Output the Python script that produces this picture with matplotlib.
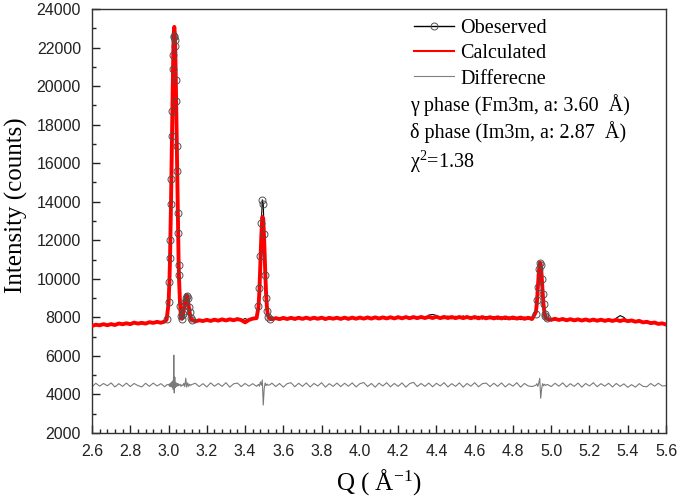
#!/usr/bin/env python3
# -*- coding: utf-8 -*-
## Rietveld fit of a neutron diffraction pattern: observed, calculated and
## difference curves against Q

import matplotlib
matplotlib.use('Agg')
import matplotlib.pyplot as plt
from matplotlib.lines import Line2D
from matplotlib.ticker import MultipleLocator

# ---- data (Q in 1/A, intensity in counts) ----
# background before the first peak
q_a = [2.60, 2.62, 2.64, 2.66, 2.68, 2.70, 2.72, 2.74, 2.76, 2.78,
       2.80, 2.82, 2.84, 2.86, 2.88, 2.90, 2.92, 2.94, 2.96, 2.98]
obs_a = [7500, 7650, 7560, 7680, 7570, 7700, 7590, 7720, 7610, 7740,
         7600, 7760, 7640, 7780, 7650, 7790, 7690, 7800, 7700, 7830]
calc_a = [7555, 7617, 7588, 7647, 7593, 7647, 7603, 7682, 7643, 7692,
          7648, 7727, 7678, 7716, 7677, 7750, 7715, 7765, 7722, 7782]
diff_a = [4400, 4580, 4430, 4570, 4450, 4600, 4390, 4560, 4420, 4590,
          4410, 4570, 4460, 4390, 4580, 4420, 4590, 4440, 4560, 4400]

# gamma (111) peak and the small shoulder peak
q_b = [2.99, 3.00, 3.005, 3.0075, 3.01, 3.0125, 3.015, 3.0175, 3.02, 3.0225,
       3.025, 3.0275, 3.03, 3.0325, 3.035, 3.0375, 3.04, 3.0425, 3.045, 3.0475,
       3.05, 3.0525, 3.055, 3.06, 3.065, 3.07, 3.075, 3.08, 3.085, 3.09,
       3.095, 3.10, 3.105, 3.11, 3.115, 3.12]
obs_b = [7900, 8790, 9850, 11100, 12000, 13900, 15200, 17400, 18700, 20900,
         21600, 22600, 22550, 22400, 22100, 20300, 19200, 16900, 15600, 13400,
         12400, 10700, 10200, 8600, 8050, 7900, 8150, 8350, 8800, 9000,
         9100, 9020, 8550, 8300, 7980, 7860]
calc_b = [7880, 8710, 9980, 10960, 12190, 13690, 15390, 17200, 18980, 20620,
          21920, 22770, 23070, 22770, 21920, 20620, 18980, 17200, 15390, 13690,
          12190, 10960, 9980, 8710, 8000, 7930, 8100, 8400, 8770, 9070,
          9160, 8970, 8620, 8270, 8010, 7890]
diff_b = [4500, 4520, 4430, 4560, 4400, 4600, 4420, 4650, 4350, 4700,
          4250, 6040, 4080, 4900, 4350, 4620, 4420, 4580, 4440, 4560,
          4450, 4540, 4470, 4530, 4420, 4500, 4460, 4580, 4400, 4850,
          4380, 4600, 4420, 4530, 4470, 4510]

q_c = [3.14, 3.16, 3.18, 3.20, 3.22, 3.24, 3.26, 3.28, 3.30, 3.32,
       3.34, 3.36, 3.38, 3.40, 3.42, 3.44, 3.46]
obs_c = [7740, 7890, 7780, 7920, 7790, 7930, 7800, 7950, 7820, 7940,
         7810, 7960, 7830, 7940, 7850, 7970, 7990]
calc_c = [7790, 7850, 7810, 7870, 7815, 7880, 7830, 7895, 7840, 7900,
          7850, 7910, 7860, 7740, 7865, 7935, 7960]
diff_c = [4580, 4410, 4560, 4390, 4600, 4430, 4570, 4420, 4610, 4380,
          4550, 4590, 4410, 4570, 4430, 4560, 4420]

# delta (110) peak
q_d = [3.47, 3.475, 3.48, 3.485, 3.49, 3.495, 3.50, 3.505, 3.51, 3.515, 3.52, 3.53]
obs_d = [8600, 9500, 11200, 12900, 14100, 13900, 12300, 10200, 9000, 8350, 8000, 7900]
calc_d = [8540, 9400, 10760, 12250, 13210, 13100, 11970, 10450, 9180, 8420, 8070, 7930]
diff_d = [4520, 4430, 4650, 4480, 4750, 3450, 4300, 4600, 4460, 4540, 4480, 4500]

q_e = [3.54, 3.56, 3.58, 3.60, 3.62, 3.64, 3.66, 3.68, 3.70, 3.72,
       3.74, 3.76, 3.78, 3.80, 3.82, 3.84, 3.86, 3.88, 3.90, 3.92,
       3.94, 3.96, 3.98, 4.00, 4.02, 4.04, 4.06, 4.08, 4.10, 4.12,
       4.14, 4.16, 4.18, 4.20, 4.22, 4.24, 4.26, 4.28, 4.30, 4.32,
       4.34, 4.36, 4.38, 4.40, 4.42, 4.44, 4.46, 4.48, 4.50, 4.52,
       4.54, 4.56, 4.58, 4.60, 4.62, 4.64, 4.66, 4.68, 4.70, 4.72,
       4.74, 4.76, 4.78, 4.80, 4.82, 4.84, 4.86, 4.88, 4.90]
obs_e = [7850, 8000, 7870, 8020, 7880, 7990, 7860, 8030, 7900, 8010,
         7870, 8040, 7890, 8000, 7860, 8030, 7910, 8020, 7880, 7990,
         7870, 8040, 7900, 8020, 7890, 8050, 7910, 8020, 7900, 8040,
         7920, 8030, 7910, 8060, 7920, 8040, 7920, 8050, 7930, 8030,
         7950, 8120, 8150, 8100, 7960, 7930, 8070, 7920, 8060, 7930,
         8080, 7930, 8050, 7920, 8060, 7910, 8050, 7920, 8040, 7900,
         8030, 7890, 8020, 7900, 8010, 7880, 8020, 7910, 7870]
calc_e = [7900, 7960, 7910, 7970, 7915, 7975, 7920, 7980, 7920, 7985,
          7920, 7980, 7925, 7985, 7915, 7975, 7930, 7980, 7920, 7985,
          7925, 7985, 7930, 7990, 7935, 7995, 7935, 8000, 7940, 8000,
          7945, 8005, 7945, 8010, 7950, 8015, 7955, 8015, 7960, 8020,
          7965, 8025, 7965, 8030, 7960, 8025, 7965, 8020, 7960, 8020,
          7960, 8020, 7955, 8020, 7950, 8015, 7950, 8010, 7945, 8005,
          7945, 8000, 7940, 7995, 7935, 7990, 7925, 7980, 7915]
diff_e = [4590, 4410, 4570, 4380, 4560, 4610, 4400, 4580, 4420, 4600,
          4390, 4570, 4440, 4610, 4380, 4560, 4420, 4590, 4410, 4580,
          4430, 4600, 4390, 4560, 4620, 4410, 4570, 4380, 4590, 4440,
          4610, 4400, 4570, 4420, 4600, 4380, 4560, 4630, 4410, 4570,
          4420, 4590, 4400, 4580, 4440, 4610, 4390, 4560, 4420, 4600,
          4380, 4570, 4430, 4610, 4400, 4560, 4590, 4410, 4580, 4420,
          4600, 4390, 4560, 4430, 4610, 4380, 4570, 4440, 4410]

# gamma (200) peak
q_f = [4.92, 4.925, 4.93, 4.935, 4.94, 4.945, 4.95, 4.955, 4.96, 4.965, 4.97, 4.98]
obs_f = [8200, 8900, 9600, 10500, 10800, 10700, 10000, 9200, 8700, 8150, 8050, 7960]
calc_f = [8280, 8750, 9490, 10310, 10840, 10770, 10160, 9320, 8630, 8210, 8010, 7915]
diff_f = [4480, 4560, 4420, 4600, 4840, 3800, 4300, 4560, 4450, 4530, 4470, 4520]

q_g = [5.00, 5.02, 5.04, 5.06, 5.08, 5.10, 5.12, 5.14, 5.16, 5.18,
       5.20, 5.22, 5.24, 5.26, 5.28, 5.30, 5.32, 5.34, 5.36, 5.38,
       5.40, 5.42, 5.44, 5.46, 5.48, 5.50, 5.52, 5.54, 5.56, 5.58,
       5.60]
obs_g = [7820, 7970, 7830, 7960, 7810, 7950, 7800, 7940, 7790, 7930,
         7780, 7930, 7790, 7920, 7770, 7910, 7770, 7960, 8090, 8000,
         7760, 7890, 7730, 7870, 7690, 7820, 7660, 7790, 7620, 7730,
         7580]
calc_g = [7875, 7925, 7865, 7915, 7850, 7905, 7845, 7895, 7835, 7890,
          7830, 7885, 7825, 7880, 7820, 7870, 7815, 7870, 7810, 7865,
          7805, 7840, 7775, 7815, 7740, 7770, 7700, 7730, 7660, 7690,
          7630]
diff_g = [4410, 4580, 4430, 4600, 4390, 4560, 4420, 4590, 4380, 4570,
          4440, 4610, 4400, 4560, 4430, 4580, 4390, 4570, 4420, 4550,
          4370, 4510, 4380, 4560, 4420, 4400, 4570, 4430, 4580, 4440,
          4460]

q = q_a + q_b + q_c + q_d + q_e + q_f + q_g
obs = obs_a + obs_b + obs_c + obs_d + obs_e + obs_f + obs_g
calc = calc_a + calc_b + calc_c + calc_d + calc_e + calc_f + calc_g
diff = diff_a + diff_b + diff_c + diff_d + diff_e + diff_f + diff_g

# open circles only show up on the peaks
q_mark = q_b + q_d + q_f
obs_mark = obs_b + obs_d + obs_f

# ---- fonts ----
plt.rcParams['font.family'] = 'Liberation Serif'
plt.rcParams['mathtext.fontset'] = 'custom'
plt.rcParams['mathtext.rm'] = 'Liberation Serif'
plt.rcParams['mathtext.it'] = 'Liberation Serif:italic'

fig = plt.figure(figsize=(6.79, 4.96), dpi=100)
plt.subplots_adjust(left=0.1355, right=0.9809, bottom=0.127, top=0.9819)
ax = plt.gca()

# curves: observed under calculated, difference below
plt.plot(q, obs, color='black', linewidth=0.8, zorder=2)
plt.plot(q, calc, color='red', linewidth=2.8, zorder=3)
plt.plot(q_mark, obs_mark, linestyle='none', marker='o', markersize=5,
         markerfacecolor='none', markeredgecolor='#505050',
         markeredgewidth=0.7, zorder=4)
plt.plot(q, diff, color='#7a7a7a', linewidth=0.8, zorder=2)

# axes
plt.xlim(2.6, 5.6)
plt.ylim(2000, 24000)
ax.xaxis.set_major_locator(MultipleLocator(0.2))
ax.xaxis.set_minor_locator(MultipleLocator(0.04))
ax.yaxis.set_major_locator(MultipleLocator(2000))
ax.yaxis.set_minor_locator(MultipleLocator(1000))
ax.xaxis.set_major_formatter(plt.FuncFormatter(lambda v, p: '%.1f' % v))
ax.tick_params(which='both', direction='in', top=False, right=False,
               width=1.0, colors='#222222', pad=8)
ax.tick_params(which='major', length=6)
ax.tick_params(which='minor', length=3.2)
for lab in ax.get_xticklabels() + ax.get_yticklabels():
    lab.set_family('Liberation Sans')
    lab.set_fontsize(11.5)
for sp in ax.spines.values():
    sp.set_linewidth(1.0)
    sp.set_color('#333333')

# axis titles
fig.text(16 / 679, 1 - 205 / 496, 'Intensity (counts)', rotation=90,
         ha='center', va='center', fontsize=18)
fig.text(379 / 679, 1 - 490 / 496, 'Q ( Å$^{\\mathregular{-1}}$)',
         ha='center', va='baseline', fontsize=18)

# legend and fit info
handles = [Line2D([0], [0], color='black', linewidth=1.0, marker='o',
                  markersize=5, markerfacecolor='none',
                  markeredgecolor='#505050', markeredgewidth=0.7),
           Line2D([0], [0], color='red', linewidth=1.5),
           Line2D([0], [0], color='#808080', linewidth=0.8)]
plt.legend(handles, ['Obeserved', 'Calculated', 'Differecne'],
           loc='upper left', bbox_to_anchor=(0.561, 0.976), frameon=False,
           fontsize=14.5, handlelength=2.0, handletextpad=0.3,
           borderpad=0, borderaxespad=0, labelspacing=0.3)
plt.text(0.554, 0.774, 'γ phase (Fm3m, a: 3.60  Å)', transform=ax.transAxes,
         fontsize=14.5, va='center')
plt.text(0.554, 0.710, 'δ phase (Im3m, a: 2.87  Å)', transform=ax.transAxes,
         fontsize=14.5, va='center')
plt.text(0.554, 0.639, 'χ$^{2}$=1.38', transform=ax.transAxes,
         fontsize=14.5, va='center')

plt.savefig('out.png', dpi=100)
